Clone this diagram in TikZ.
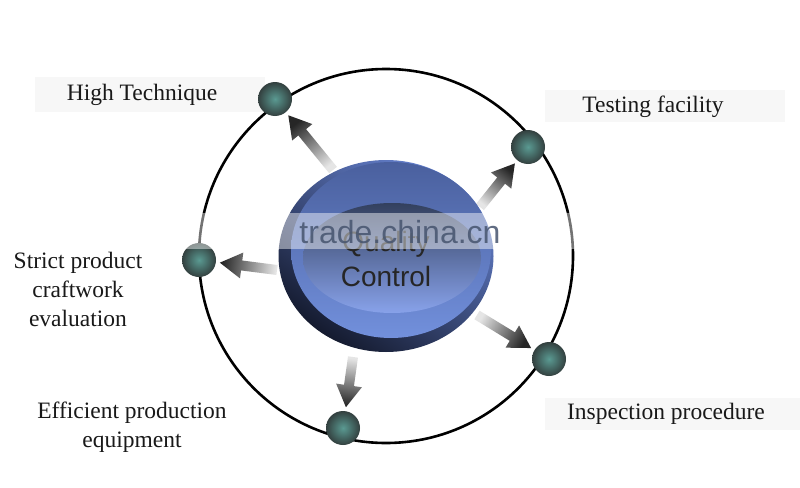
\documentclass[tikz,border=0pt]{standalone}
\usepackage{fontspec}
\setmainfont{Liberation Serif}
\newfontfamily\arialf{Liberation Sans}
\usetikzlibrary{shapes.geometric,calc}
\definecolor{ballin}{HTML}{5A9A92}
\definecolor{ballout}{HTML}{33403F}
\definecolor{btnlight}{HTML}{6682D0}
\definecolor{btndark}{HTML}{141A2E}
\definecolor{ringtop}{HTML}{4A609E}
\definecolor{ringbot}{HTML}{7290DC}
\definecolor{facetop}{HTML}{33405E}
\definecolor{facebot}{HTML}{88A2EA}
\definecolor{wmark}{HTML}{46546E}
\tikzset{
  ballst/.style={circle, minimum size=34pt, inner sep=0pt, inner color=ballin, outer color=ballout},
  lbl/.style={font=\fontsize{23.5}{29}\selectfont, align=center, inner sep=0pt, text=black!90},
  band/.style={fill=black!3},
  ringst/.style={circle, draw=black, line width=2.6pt, minimum size=374pt, inner sep=0pt},
}
\newcommand{\qarrow}[3]{%
  \coordinate (tp) at ($(#2)!21pt!(#1)$);
  \coordinate (hb) at ($(tp)!22pt!(#1)$);
  \shade[top color=black!85, bottom color=black!10, shading angle=#3]
    ($(#1)!5pt!90:(tp)$) -- ($(hb)!5pt!90:(tp)$) -- ($(hb)!13pt!90:(tp)$) -- (tp)
    -- ($(hb)!13pt!-90:(tp)$) -- ($(hb)!5pt!-90:(tp)$) -- ($(#1)!5pt!-90:(tp)$) -- cycle;
}
\begin{document}
\begin{tikzpicture}[x=1pt,y=-1pt]
\useasboundingbox[fill=white] (0,0) rectangle (800,487);
% faint label bands
\fill[band] (35,77) rectangle (265,112);
\fill[band] (545,90) rectangle (785,122);
\fill[band] (545,398) rectangle (800,430);
% big circle
\node[ringst] (ring) at (386,256) {};
% arrow tails and ball centres
\coordinate (s1) at (333,170);
\coordinate (s2) at (480,207);
\coordinate (s3) at (277,270);
\coordinate (s4) at (353,357);
\coordinate (s5) at (477,315);
\coordinate (c1) at (275,99);
\coordinate (c2) at (528,147);
\coordinate (c3) at (199,260);
\coordinate (c4) at (343,428);
\coordinate (c5) at (549,359);
% arrows
\qarrow{s1}{c1}{39}
\qarrow{s2}{c2}{-39}
\qarrow{s3}{c3}{83}
\qarrow{s4}{c4}{172}
\qarrow{s5}{c5}{-121}
% button
\node[ellipse, minimum width=215pt, minimum height=192pt, inner sep=0pt,
      top color=btnlight, bottom color=btndark, shading angle=-35] (qc) at (386,256) {};
\shade[top color=ringtop, bottom color=ringbot] (391,250) ellipse [x radius=100pt, y radius=88pt];
\shade[top color=facetop, bottom color=facebot] (392,258) ellipse [x radius=89pt, y radius=55pt];
\node[font=\arialf\fontsize{28}{35}\selectfont, align=center, text=black!85, anchor=base] (qt) at (386,286) {Quality\\Control};
% balls
\node[ballst] (b1) at (c1) {};
\node[ballst] (b2) at (c2) {};
\node[ballst] (b3) at (c3) {};
\node[ballst] (b4) at (c4) {};
\node[ballst] (b5) at (c5) {};
% labels
\node[lbl, anchor=base] (l1) at (142,100) {High Technique};
\node[lbl, anchor=base] (l2) at (653,112) {Testing facility};
\node[lbl, anchor=base] (l3) at (78,326) {Strict product\\craftwork\\evaluation};
\node[lbl, anchor=base] (l4) at (132,447) {Efficient production\\equipment};
\node[lbl, anchor=base] (l5) at (666,419) {Inspection procedure};
% watermark
\fill[white, opacity=0.45] (0,213) rectangle (590,249);
\node[font=\arialf\fontsize{32}{36}\selectfont, text=wmark, opacity=0.85, anchor=base, inner sep=0pt] (wm) at (400,243) {trade.china.cn};
\end{tikzpicture}
\end{document}
